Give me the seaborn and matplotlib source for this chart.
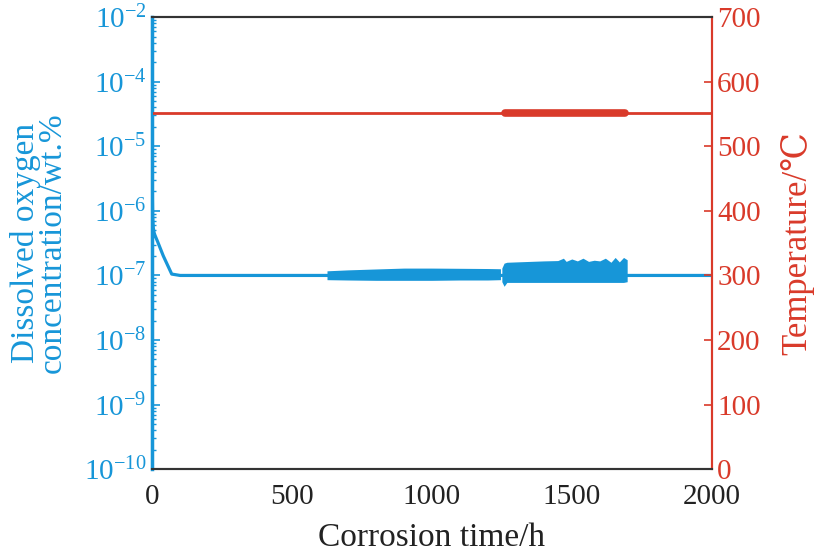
import matplotlib
matplotlib.use('Agg')
import matplotlib.pyplot as plt
import matplotlib.ticker as mticker
import seaborn as sns
import pandas as pd

# dissolved oxygen, main trace (wt.%)
do_time = [0, 0.3, 1, 2, 4, 7, 10, 20, 40, 70, 100, 600, 1000, 1500, 2000]
do_value = [1e-3, 1e-5, 1.5e-6, 8e-7, 5.5e-7, 4.6e-7, 4.2e-7, 3.3e-7, 2.0e-7, 1.05e-7,
            1.0e-7, 1.0e-7, 1.0e-7, 1.0e-7, 1.0e-7]

# fluctuation envelopes
band1_time = [625, 700, 800, 900, 1000, 1100, 1200, 1245]
band1_lo = [0.86e-7, 0.85e-7, 0.84e-7, 0.84e-7, 0.84e-7, 0.85e-7, 0.85e-7, 0.86e-7]
band1_hi = [1.18e-7, 1.22e-7, 1.26e-7, 1.30e-7, 1.30e-7, 1.29e-7, 1.28e-7, 1.27e-7]

band2_time = [1250, 1258, 1268, 1300, 1350, 1400, 1450, 1470, 1480, 1500, 1520,
              1540, 1560, 1580, 1600, 1620, 1640, 1655, 1670, 1685, 1698]
band2_lo = [0.80e-7, 0.68e-7, 0.78e-7, 0.78e-7, 0.78e-7, 0.78e-7, 0.78e-7, 0.78e-7,
            0.78e-7, 0.78e-7, 0.78e-7, 0.78e-7, 0.78e-7, 0.78e-7, 0.78e-7, 0.78e-7,
            0.78e-7, 0.78e-7, 0.78e-7, 0.78e-7, 0.8e-7]
band2_hi = [1.3e-7, 1.55e-7, 1.6e-7, 1.62e-7, 1.65e-7, 1.68e-7, 1.7e-7, 1.85e-7,
            1.65e-7, 1.8e-7, 1.68e-7, 1.85e-7, 1.65e-7, 1.72e-7, 1.68e-7, 1.85e-7,
            1.6e-7, 1.9e-7, 1.62e-7, 1.9e-7, 1.75e-7]

# temperature
temp_time = [0, 500, 1000, 1500, 2000]
temp_value = [552, 552, 552, 552, 552]
temp_thick_time = [1262, 1690]
temp_thick_value = [552, 552]

do_ticks = [1e-10, 1e-9, 1e-8, 1e-7, 1e-6, 1e-5, 1e-4, 1e-3]
do_ticklabels = ['-10', '-9', '-8', '-7', '-6', '-5', '-4', '-2']
temp_ticks = [0, 100, 200, 300, 400, 500, 600, 700]
time_ticks = [0, 500, 1000, 1500, 2000]

blue = '#1796d8'
red = '#d93a2a'

sns.set_style('white')
plt.rcParams['font.family'] = ['Liberation Serif', 'DejaVu Serif', 'DejaVu Sans']
plt.rcParams['mathtext.fontset'] = 'custom'
plt.rcParams['mathtext.rm'] = 'Liberation Serif'

fig = plt.figure(figsize=(8.18, 5.52), dpi=100)
ax = fig.add_axes([0.186, 0.150, 0.684, 0.819])
ax2 = ax.twinx()

df_do = pd.DataFrame({'t': do_time, 'v': do_value})
sns.lineplot(data=df_do, x='t', y='v', ax=ax, color=blue, lw=2.3,
             sort=False, estimator=None)
ax.fill_between(band1_time, band1_lo, band1_hi, color=blue, lw=0)
ax.fill_between(band2_time, band2_lo, band2_hi, color=blue, lw=0)

df_t = pd.DataFrame({'t': temp_time, 'v': temp_value})
sns.lineplot(data=df_t, x='t', y='v', ax=ax2, color=red, lw=2.0,
             sort=False, estimator=None)
df_tk = pd.DataFrame({'t': temp_thick_time, 'v': temp_thick_value})
sns.lineplot(data=df_tk, x='t', y='v', ax=ax2, color=red, lw=5.5,
             sort=False, estimator=None, solid_capstyle='round')

ax.set_yscale('log')
ax.set_ylim(1e-10, 1e-3)
ax.set_xlim(0, 2000)
ax2.set_ylim(0, 700)

ax.yaxis.set_major_locator(mticker.FixedLocator(do_ticks))
ax.yaxis.set_major_formatter(mticker.FixedFormatter(
    [r'$\mathregular{10^{%s}}$' % s for s in do_ticklabels]))
ax.yaxis.set_minor_locator(mticker.LogLocator(base=10, subs=range(2, 10), numticks=20))
ax.yaxis.set_minor_formatter(mticker.NullFormatter())
ax.set_xticks(time_ticks)
ax2.set_yticks(temp_ticks)

ax.tick_params(axis='x', direction='in', length=6, width=1.2, labelsize=21,
               colors='#222222', pad=11, top=False)
ax.tick_params(axis='y', which='major', direction='in', length=6, width=1.2,
               colors=blue, labelsize=21, pad=4)
ax.tick_params(axis='y', which='minor', direction='in', length=3, width=1.0,
               colors=blue)
ax2.tick_params(axis='y', direction='in', length=6, width=1.2, colors=red,
                labelsize=21, pad=4)

for a in (ax, ax2):
    a.spines['top'].set_color('#333333')
    a.spines['bottom'].set_color('#333333')
    a.spines['left'].set_color(blue)
    a.spines['right'].set_color(red)
    for s in a.spines.values():
        s.set_linewidth(1.5)
ax.spines['left'].set_linewidth(2.5)

ax.set_xlabel('Corrosion time/h', fontsize=24, color='#222222', labelpad=9)
ax.set_ylabel('Dissolved oxygen\nconcentration/wt.%', fontsize=24, color=blue,
              labelpad=12, linespacing=0.85)
ax2.set_ylabel('Temperature/℃', fontsize=25, color=red, labelpad=14)

fig.savefig('out.png', dpi=100)
